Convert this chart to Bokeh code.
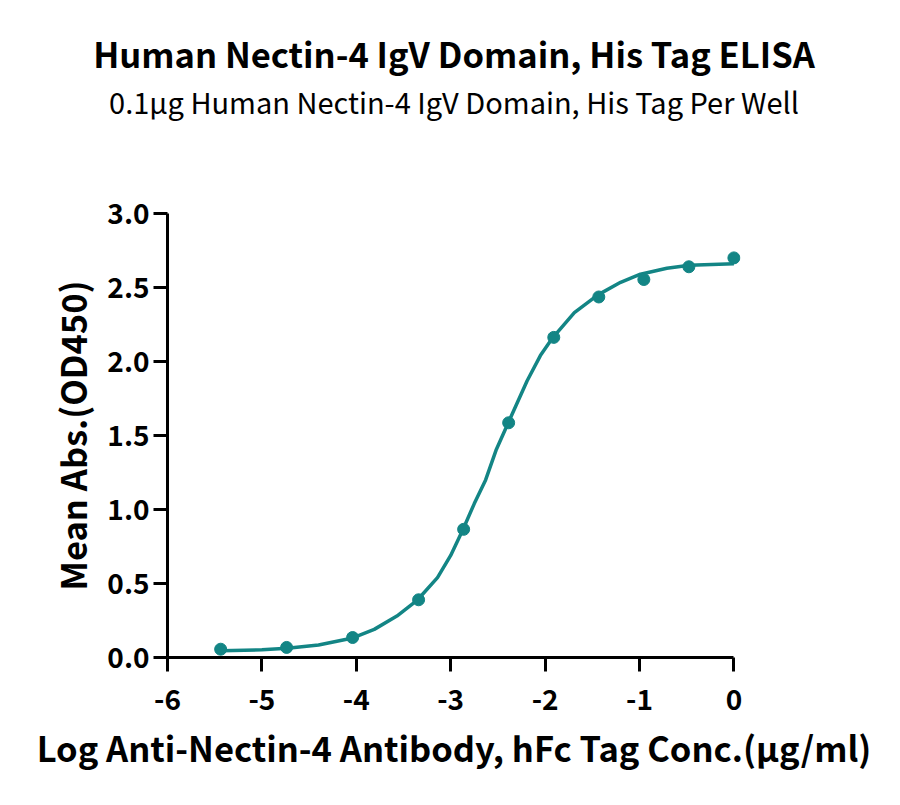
from bokeh.plotting import figure
from bokeh.models import Title, FixedTicker, PrintfTickFormatter, Range1d
from bokeh.embed import file_html
from bokeh.resources import INLINE

# measured points (log conc, mean OD450)
log_conc = [-5.437, -4.738, -4.039, -3.340, -2.863, -2.386, -1.908, -1.431, -0.954, -0.477, 0.0]
mean_abs = [0.056, 0.068, 0.135, 0.39, 0.866, 1.586, 2.163, 2.436, 2.554, 2.64, 2.70]

# fitted curve
fit_x = [-5.43, -5.0, -4.73, -4.4, -4.05, -3.81, -3.57, -3.35, -3.14, -3.0, -2.87, -2.75,
         -2.63, -2.52, -2.39, -2.19, -2.05, -1.92, -1.69, -1.44, -1.20, -0.99, -0.71, -0.47, 0.0]
fit_y = [0.045, 0.052, 0.062, 0.085, 0.13, 0.19, 0.28, 0.39, 0.54, 0.69, 0.865, 1.04,
         1.20, 1.40, 1.586, 1.87, 2.04, 2.16, 2.33, 2.45, 2.535, 2.59, 2.63, 2.65, 2.66]

x_ticks = [-6, -5, -4, -3, -2, -1, 0]
x_tick_labels = ["-6", "-5", "-4", "-3", "-2", "-1", "0"]
y_ticks = [0.0, 0.5, 1.0, 1.5, 2.0, 2.5, 3.0]

FONT = "Noto Sans CJK SC"
TEAL = "#138585"

p = figure(width=884, height=789, output_backend="svg", toolbar_location=None,
           x_range=Range1d(-6, 0.07), y_range=Range1d(0, 3.0),
           min_border_left=167, min_border_right=144, min_border_top=213, min_border_bottom=132)
p.outline_line_color = None
p.grid.grid_line_color = None

# p.title stays outermost; extra "above" panels stack outward from the frame
p.title.text = "Human Nectin-4 IgV Domain, His Tag ELISA"
p.title.text_font = FONT
p.title.text_font_style = "bold"
p.title.text_font_size = "34.5px"
p.title.text_color = "black"
p.title.align = "center"
p.title.standoff = 0
p.add_layout(Title(text=" ", text_font_size="1px", standoff=89), "above")  # spacer
p.add_layout(Title(text="0.1µg Human Nectin-4 IgV Domain, His Tag Per Well", text_font=FONT,
                   text_font_style="normal", text_font_size="29px", text_color="black",
                   align="center", standoff=0), "above")

p.line(fit_x, fit_y, line_color=TEAL, line_width=3.5)
p.scatter(log_conc, mean_abs, size=12, color=TEAL)

for ax in (p.xaxis[0], p.yaxis[0]):
    ax.axis_line_width = 3
    ax.major_tick_line_width = 3
    ax.major_tick_out = 14
    ax.major_tick_in = 0
    ax.minor_tick_line_color = None
    ax.major_label_text_font = FONT
    ax.major_label_text_font_style = "bold"
    ax.major_label_text_font_size = "28px"
    ax.major_label_text_color = "black"
    ax.axis_label_text_font = FONT
    ax.axis_label_text_font_style = "bold"
    ax.axis_label_text_font_size = "34.5px"
    ax.axis_label_text_color = "black"

p.xaxis.ticker = FixedTicker(ticks=x_ticks)
p.xaxis.major_label_overrides = dict(zip(x_ticks, x_tick_labels))
p.xaxis.bounds = (-6, 0)
p.xaxis.major_label_standoff = 17
p.xaxis.axis_label = "Log Anti-Nectin-4 Antibody, hFc Tag Conc.(µg/ml)"
p.xaxis.axis_label_standoff = 9

p.yaxis.ticker = FixedTicker(ticks=y_ticks)
p.yaxis.formatter = PrintfTickFormatter(format="%.1f")
p.yaxis.bounds = (0, 3)
p.yaxis.major_label_standoff = 4
p.yaxis.axis_label = "Mean Abs.(OD450)"
p.yaxis.axis_label_standoff = 7

open("out.html", "w").write(file_html(p, INLINE))
